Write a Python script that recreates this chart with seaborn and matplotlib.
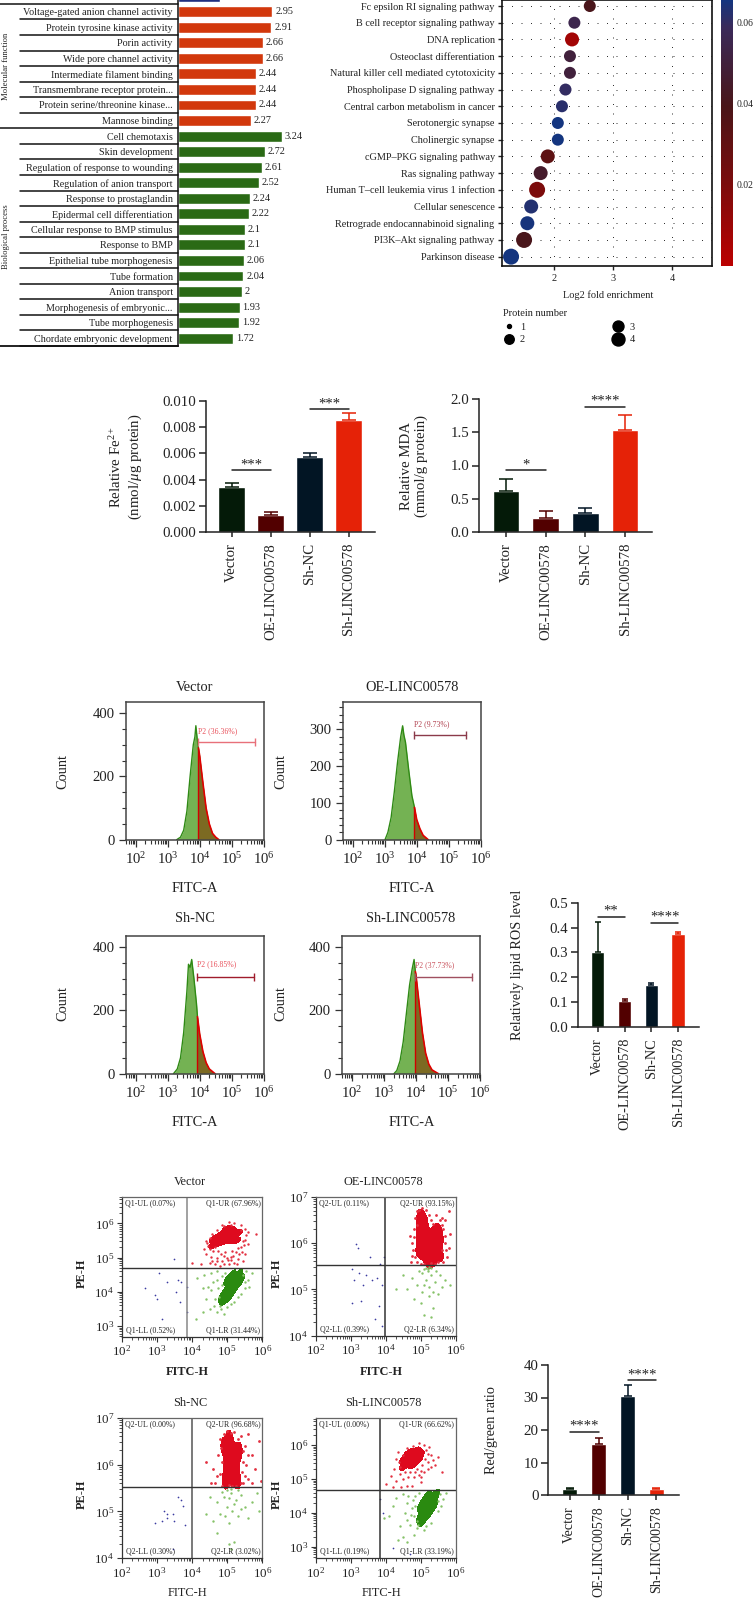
"""LINC00578 multi panel figure: enrichment, ferroptosis assays, flow cytometry"""
import numpy as np
import matplotlib
matplotlib.use('Agg')
import matplotlib.pyplot as plt
from matplotlib.cm import ScalarMappable
from matplotlib.colors import LinearSegmentedColormap, ListedColormap, Normalize
from matplotlib.lines import Line2D
import seaborn as sns

sns.set_theme(style='ticks')
plt.rcParams['font.family'] = ['Liberation Serif', 'DejaVu Serif']
plt.rcParams['mathtext.fontset'] = 'custom'
plt.rcParams['mathtext.rm'] = 'Liberation Serif'
plt.rcParams['mathtext.it'] = 'Liberation Serif:italic'
plt.rcParams['mathtext.bf'] = 'Liberation Serif:bold'
plt.rcParams['mathtext.fallback'] = 'stix'

W, H = 754, 1600
INK = '#222222'

# ---- enrichment bars ----
go_terms = ['', 'Voltage-gated anion channel activity', 'Protein tyrosine kinase activity', 'Porin activity',
            'Wide pore channel activity', 'Intermediate filament binding', 'Transmembrane receptor protein...',
            'Protein serine/threonine kinase...', 'Mannose binding', 'Cell chemotaxis', 'Skin development',
            'Regulation of response to wounding', 'Regulation of anion transport', 'Response to prostaglandin',
            'Epidermal cell differentiation', 'Cellular response to BMP stimulus', 'Response to BMP',
            'Epithelial tube morphogenesis', 'Tube formation', 'Anion transport', 'Morphogenesis of embryonic...',
            'Tube morphogenesis', 'Chordate embryonic development']
go_values = [1.32, 2.95, 2.91, 2.66, 2.66, 2.44, 2.44, 2.44, 2.27, 3.24, 2.72, 2.61, 2.52, 2.24, 2.22, 2.1, 2.1,
             2.06, 2.04, 2, 1.93, 1.92, 1.72]
go_groups = ['CC'] + ['MF'] * 8 + ['BP'] * 14
go_palette = {'CC': '#1f2f7f', 'MF': '#d2380c', 'BP': '#2a6a15'}

# ---- KEGG dot plot ----
pathways = ['Fc epsilon RI signaling pathway', 'B cell receptor signaling pathway', 'DNA replication',
            'Osteoclast differentiation', 'Natural killer cell mediated cytotoxicity',
            'Phospholipase D signaling pathway', 'Central carbon metabolism in cancer', 'Serotonergic synapse',
            'Cholinergic synapse', 'cGMP–PKG signaling pathway', 'Ras signaling pathway',
            'Human T–cell leukemia virus 1 infection', 'Cellular senescence',
            'Retrograde endocannabinoid signaling', 'PI3K–Akt signaling pathway', 'Parkinson disease']
fold_enrichment = [2.61, 2.35, 2.31, 2.275, 2.275, 2.20, 2.14, 2.07, 2.07, 1.90, 1.78, 1.72, 1.62, 1.555, 1.50, 1.28]
p_values = [0.040, 0.055, 0.008, 0.050, 0.050, 0.060, 0.062, 0.066, 0.066, 0.032, 0.045, 0.020, 0.063, 0.065,
            0.040, 0.066]
protein_number = [2, 2, 3, 2, 2, 2, 2, 2, 2, 3, 3, 4, 3, 3, 4, 4]

# ---- assay bars ----
groups = ['Vector', 'OE-LINC00578', 'Sh-NC', 'Sh-LINC00578']
bar_colors = ['#041a08', '#520000', '#021524', '#e52207']
fe_mean = [0.0034, 0.0013, 0.00575, 0.0086]
fe_top = [0.0037, 0.0015, 0.00605, 0.0091]
mda_mean = [0.62, 0.21, 0.285, 1.53]
mda_top = [0.79, 0.31, 0.355, 1.76]
ros_mean = [0.30, 0.103, 0.167, 0.373]
ros_top = [0.425, 0.11, 0.175, 0.383]
ratio_mean = [2.0, 15.7, 30.4, 1.8]
ratio_top = [2.2, 17.6, 34.0, 2.1]

# ---- flow histograms, x in log10 FITC-A ----
hist1_x = [3.28, 3.4, 3.5, 3.6, 3.7, 3.8, 3.85, 3.88, 3.92, 3.96, 4.0, 4.1, 4.2, 4.3, 4.4, 4.5, 4.6]
hist1_y = [0, 8, 30, 90, 200, 300, 325, 360, 320, 290, 265, 180, 100, 50, 20, 8, 0]
hist2_x = [3.01, 3.1, 3.2, 3.3, 3.4, 3.5, 3.53, 3.56, 3.6, 3.65, 3.75, 3.85, 3.93, 4.0, 4.1, 4.2, 4.36]
hist2_y = [0, 20, 60, 130, 210, 280, 295, 310, 285, 265, 190, 120, 88, 55, 30, 12, 0]
hist3_x = [3.18, 3.3, 3.4, 3.5, 3.6, 3.65, 3.7, 3.75, 3.82, 3.9, 3.93, 4.0, 4.1, 4.2, 4.3, 4.48]
hist3_y = [0, 15, 50, 130, 260, 345, 335, 360, 300, 220, 180, 125, 70, 35, 15, 0]
hist4_x = [3.31, 3.4, 3.5, 3.6, 3.7, 3.8, 3.88, 3.94, 3.98, 4.0, 4.1, 4.2, 4.3, 4.4, 4.5, 4.7]
hist4_y = [0, 10, 40, 100, 190, 280, 330, 360, 322, 310, 220, 130, 65, 30, 12, 0]

# ---- JC-1 clouds, (log10 FITC-H, log10 PE-H) ----
a_red_core = [(4.6, 5.35), (4.8, 5.45), (5.0, 5.55), (5.2, 5.7), (5.1, 5.8), (4.9, 5.7), (5.25, 5.5), (4.75, 5.62),
              (5.0, 5.85), (5.3, 5.72), (4.62, 5.52), (5.12, 5.5), (4.9, 5.5), (5.05, 5.68)]
a_red_fringe = [(4.4, 5.1), (4.5, 4.85), (4.6, 5.2), (4.7, 5.0), (4.85, 4.9), (4.95, 5.15), (5.05, 4.8), (5.15, 5.2),
                (5.3, 4.95), (5.4, 5.3), (5.5, 5.1), (4.45, 5.35), (4.55, 5.02), (4.75, 5.2), (4.9, 5.05), (5.1, 5.02),
                (5.25, 5.15), (5.45, 5.5), (5.55, 5.65), (5.6, 5.4), (4.35, 5.25), (4.65, 4.8), (4.8, 4.75), (5.2, 4.85),
                (4.4, 5.5), (5.5, 5.85), (5.4, 5.95), (5.81, 5.7), (4.25, 4.8), (4.0, 4.85), (5.0, 5.0), (5.35, 5.12),
                (4.58, 5.7), (5.2, 6.02), (5.05, 6.05), (4.85, 5.95), (4.5, 5.25), (4.42, 5.42), (4.65, 5.3), (4.72, 4.9),
                (4.82, 5.12), (5.02, 4.92), (5.18, 5.05), (5.32, 5.28), (5.42, 5.15), (5.48, 5.38), (5.52, 5.52),
                (5.12, 4.92), (4.92, 4.82), (5.38, 5.82), (4.52, 5.58), (4.7, 5.82), (4.92, 5.92), (5.12, 5.95),
                (5.28, 4.8), (4.58, 4.9), (5.6, 5.75), (5.45, 4.9)]
a_green_core = [(4.85, 3.85), (4.95, 4.0), (5.05, 4.15), (5.15, 4.3), (5.25, 4.4), (5.35, 4.52), (5.1, 3.95),
                (5.2, 4.1), (5.0, 4.35), (4.9, 3.75), (5.3, 4.25), (5.15, 4.5), (5.4, 4.35), (5.05, 3.85)]
a_green_fringe = [(4.15, 4.4), (4.3, 4.1), (4.4, 3.8), (4.5, 3.5), (4.6, 4.3), (4.7, 3.4), (4.75, 4.1), (4.8, 3.6),
                  (4.55, 4.55), (4.3, 3.4), (4.1, 3.2), (4.9, 3.35), (5.0, 3.55), (5.2, 3.7), (5.4, 3.95), (5.5, 4.1),
                  (5.6, 4.35), (5.7, 4.55), (4.7, 4.6), (4.85, 4.45), (5.55, 4.6), (4.45, 4.15), (4.65, 3.8), (4.95, 4.55),
                  (4.78, 3.85), (4.72, 4.35), (4.85, 4.2), (5.3, 3.85), (5.45, 4.5), (5.52, 4.3), (4.62, 3.6), (4.55, 4.05),
                  (4.82, 3.5), (5.1, 3.65), (5.62, 4.15), (4.35, 4.5)]
a_blue = [(2.65, 4.1), (3.0, 3.8), (3.05, 4.55), (3.3, 4.3), (3.6, 4.35), (3.7, 4.3), (3.5, 4.95), (3.65, 3.7),
          (3.85, 4.15), (2.95, 3.9), (3.15, 3.2), (3.85, 3.4), (3.55, 4.0)]

b_red_core = [(5.0, 6.6), (5.0, 6.4), (5.0, 6.2), (5.0, 6.0), (5.1, 5.8), (5.1, 6.5), (5.1, 6.3), (5.15, 6.1),
              (5.25, 5.9), (5.25, 5.7), (5.3, 6.1), (5.4, 6.0), (5.4, 6.2), (5.5, 5.9), (5.55, 6.1), (5.2, 5.6),
              (5.35, 5.65), (5.5, 6.3), (4.95, 5.8), (5.55, 5.72), (5.12, 5.95), (5.3, 5.85)]
b_red_fringe = [(4.72, 5.6), (4.75, 6.0), (4.8, 6.3), (4.85, 5.7), (4.85, 6.55), (4.9, 6.7), (5.15, 6.72), (5.3, 6.5),
                (5.45, 6.6), (5.65, 6.3), (5.7, 6.0), (5.75, 5.7), (5.7, 6.5), (5.8, 6.7), (5.6, 6.55), (4.78, 5.85),
                (5.8, 5.9), (5.85, 6.2), (5.65, 5.6), (4.7, 6.15), (5.0, 5.55), (5.4, 5.55), (4.82, 6.12), (4.88, 5.6),
                (4.9, 6.4), (4.95, 6.72), (5.05, 6.75), (5.25, 6.6), (5.35, 6.42), (5.55, 6.5), (5.62, 5.85),
                (5.68, 6.15), (5.72, 5.85), (5.6, 6.4), (4.76, 5.72), (5.1, 5.55), (5.3, 5.56), (5.5, 5.58)]
b_green = [(4.5, 5.3), (4.6, 5.0), (4.75, 5.25), (4.8, 4.8), (4.9, 5.1), (5.0, 4.7), (5.05, 5.35), (5.15, 5.2),
           (5.2, 5.4), (5.25, 5.05), (5.25, 4.85), (5.3, 5.3), (5.35, 4.6), (5.4, 5.15), (5.5, 4.9), (5.55, 5.3),
           (5.7, 5.2), (5.85, 5.1), (5.1, 4.45), (5.3, 4.4), (4.3, 5.0), (5.2, 5.45), (5.25, 5.48), (5.15, 5.47),
           (5.05, 4.95), (5.35, 4.95), (5.1, 5.1), (5.45, 5.4), (4.95, 5.4), (5.6, 5.05), (5.3, 5.46), (5.1, 5.44)]
b_blue = [(3.15, 5.98), (3.2, 5.9), (3.55, 5.7), (3.85, 5.55), (3.95, 5.7), (3.05, 5.45), (3.25, 5.35), (3.45, 5.3),
          (3.75, 5.25), (3.6, 5.2), (3.1, 5.2), (3.35, 5.1), (3.9, 5.1), (3.3, 4.75), (3.05, 4.7), (3.8, 4.65),
          (3.7, 4.35), (3.9, 4.2)]

c_red_core = [(4.9, 6.4), (5.0, 6.2), (5.0, 6.0), (5.0, 5.8), (5.1, 6.45), (5.1, 6.15), (5.1, 5.9), (5.15, 5.7),
              (5.25, 6.25), (5.25, 6.05), (5.25, 5.85), (5.3, 5.65), (4.95, 5.65), (5.35, 6.3), (5.05, 6.55)]
c_red_fringe = [(4.55, 5.6), (4.6, 5.9), (4.65, 5.6), (4.4, 6.05), (4.75, 6.2), (4.8, 6.55), (4.7, 5.75), (5.4, 6.6),
                (5.5, 6.4), (5.55, 6.0), (5.6, 5.7), (5.45, 5.6), (5.7, 6.2), (5.8, 5.9), (5.9, 6.5), (5.7, 5.6),
                (5.2, 6.7), (5.0, 6.72), (5.6, 6.65), (5.95, 5.65), (4.85, 5.55), (5.15, 5.55), (4.8, 5.8), (4.85, 6.05),
                (4.82, 6.35), (4.9, 6.65), (5.12, 6.68), (5.3, 6.55), (5.45, 6.3), (5.45, 6.05), (5.42, 5.85),
                (5.5, 5.75), (5.38, 5.6), (5.05, 5.56), (5.25, 5.55), (5.6, 6.2)]
c_green = [(4.5, 5.3), (4.4, 4.95), (4.6, 4.8), (4.7, 5.2), (4.8, 4.95), (4.9, 5.3), (5.0, 5.1), (5.05, 4.75),
           (5.1, 5.4), (5.15, 5.0), (5.25, 5.25), (5.3, 4.9), (5.4, 5.35), (5.5, 5.1), (5.6, 4.85), (5.7, 5.2),
           (5.05, 4.3), (5.1, 4.2), (4.7, 4.55), (5.0, 5.45), (5.2, 4.35), (5.85, 5.4), (5.9, 5.0), (5.1, 5.48),
           (4.95, 4.9), (5.2, 5.15), (5.4, 5.05), (5.05, 5.28), (5.3, 5.45), (4.85, 5.42)]
c_blue = [(3.6, 5.3), (3.7, 5.25), (3.45, 4.95), (3.2, 5.0), (3.3, 4.85), (3.15, 4.8), (3.5, 4.8), (2.95, 4.75),
          (3.3, 4.95), (3.45, 4.2), (3.8, 4.7), (3.75, 5.12)]

d_red_core = [(4.5, 5.35), (4.6, 5.5), (4.7, 5.6), (4.8, 5.7), (4.9, 5.85), (5.0, 5.75), (4.7, 5.8), (4.85, 5.5),
              (4.6, 5.7), (4.95, 5.6), (4.75, 5.4), (4.5, 5.55)]
d_red_fringe = [(4.0, 4.85), (4.15, 5.1), (4.25, 5.3), (4.3, 4.95), (4.4, 5.15), (4.5, 5.0), (4.6, 4.8), (4.7, 5.2),
                (4.8, 5.05), (4.9, 5.3), (5.0, 4.9), (5.1, 5.2), (5.2, 5.5), (5.3, 5.7), (5.4, 5.4), (5.5, 5.65),
                (5.6, 5.2), (4.3, 5.6), (4.35, 5.8), (4.4, 5.35), (5.15, 5.85), (5.35, 5.55), (5.0, 5.05), (4.75, 4.8),
                (5.1, 6.0), (4.95, 6.05), (5.25, 5.95), (4.2, 4.75), (4.45, 4.75), (5.05, 5.4), (4.55, 5.2), (4.65, 5.05),
                (4.85, 5.22), (4.95, 5.12), (5.12, 5.6), (5.2, 5.3), (4.38, 5.5), (4.48, 5.72), (4.62, 5.92), (4.78, 5.98),
                (5.02, 5.25), (5.22, 5.75), (5.3, 5.35)]
d_green_core = [(4.98, 3.85), (5.05, 4.0), (5.15, 4.15), (5.25, 4.3), (5.35, 4.45), (5.45, 4.55), (5.2, 3.95),
                (5.3, 4.1), (5.1, 4.35), (5.0, 4.2), (5.4, 4.25), (5.2, 4.52), (5.05, 3.75)]
d_green_fringe = [(4.1, 3.9), (4.2, 4.2), (4.3, 4.45), (4.4, 3.6), (4.5, 3.3), (4.55, 4.0), (4.6, 3.15), (4.65, 4.5),
                  (4.7, 3.65), (4.75, 4.15), (4.8, 3.35), (4.85, 4.5), (4.9, 3.55), (4.35, 3.2), (5.1, 3.5), (5.3, 3.7),
                  (5.5, 4.05), (5.65, 4.4), (5.72, 4.6), (3.95, 3.85), (4.5, 4.55), (4.8, 3.9), (5.55, 4.55), (4.95, 4.6),
                  (4.85, 4.2), (4.72, 3.95), (4.92, 3.65), (4.62, 4.3), (5.5, 4.35), (5.58, 4.2), (5.15, 3.62),
                  (4.88, 3.75), (4.78, 4.38), (4.6, 3.8)]
d_blue = [(3.85, 4.4), (3.92, 4.0), (4.2, 2.95), (4.7, 2.8)]

MAROON_RED = LinearSegmentedColormap.from_list(
    'pval', [(0, '#bb0000'), (0.3, '#7d0c0c'), (0.6, '#4a1518'), (0.9, '#3a2a5a'), (1, '#14357f')])


def px_axes(left, top, right, bottom):
    """Axes from a box in reference pixels"""
    return plt.gcf().add_axes([left / W, 1 - bottom / H, (right - left) / W, (bottom - top) / H])


def px_text(x, y, s, **kw):
    kw.setdefault('ha', 'center')
    kw.setdefault('va', 'center')
    plt.gcf().text(x / W, 1 - y / H, s, color=kw.pop('color', INK), **kw)


def px_hline(x0, x1, y, lw=1.1):
    plt.gcf().add_artist(Line2D([x0 / W, x1 / W], [1 - y / H, 1 - y / H], color='#111111', lw=lw))


def enrichment_panel():
    ax = px_axes(177.5, 0, 330, 346)
    sns.barplot(x=go_values, y=go_terms, hue=go_groups, palette=go_palette, dodge=False, legend=False,
                orient='h', width=0.7, saturation=1, ax=ax)
    ax.set_xlim(0, 152.5 / 32.2)
    ax.set_ylim(22.5, 0.2475)
    ax.set_xticks([])
    ax.set_xlabel('')
    ax.tick_params(axis='y', length=0, pad=3.5, labelsize=7.3, labelcolor=INK)
    sns.despine(ax=ax, bottom=True)
    ax.spines['left'].set_color('#111111')
    ax.spines['left'].set_linewidth(1.1)
    for i, v in enumerate(go_values):
        if i:
            ax.text(v + 0.09, i, f'{v:g}', va='center', ha='left', fontsize=7.4, color=INK)
    for k in range(len(go_terms)):
        y = -3.85 + 15.55 * (k + 0.5)
        px_hline(0 if k in (0, 8) else 20, 177.5, y)
    px_hline(0, 177.5, 345.7, lw=1.3)
    px_text(6.3, 66.7, 'Molecular function', rotation=90, fontsize=6.2)
    px_text(6.3, 237, 'Biological process', rotation=90, fontsize=6.2)


def dot_panel():
    ax = px_axes(502.3, 0, 712.3, 266)
    px = 0.72
    sizes = {2: (12 * px) ** 2, 3: (14 * px) ** 2, 4: (16 * px) ** 2}
    sns.scatterplot(x=fold_enrichment, y=pathways, hue=p_values, hue_norm=(0, 0.0656), palette=MAROON_RED,
                    size=protein_number, sizes=sizes, legend=False, linewidth=0, zorder=3, ax=ax)
    ax.set_xlim(1.132, 4.68)
    ax.set_ylim(15.56, -0.36)
    ax.set_xticks([2, 3, 4])
    ax.grid(True, color='#333333', lw=0.72, ls=(0, (1, 8.5)))
    ax.set_axisbelow(True)
    ax.tick_params(axis='y', length=3, width=1, pad=2.5, labelsize=7.4, labelcolor=INK, color=INK)
    ax.tick_params(axis='x', length=3, width=1, pad=2.5, labelsize=7.4, labelcolor=INK, color=INK)
    for side in ax.spines.values():
        side.set_color('#111111')
        side.set_linewidth(1.2)
    px_text(607.7, 295, 'Log2 fold enrichment', fontsize=7.5)

    cax = px_axes(721, 0, 733, 266)
    cbar = plt.gcf().colorbar(ScalarMappable(Normalize(0, 0.0656), MAROON_RED), cax=cax)
    cbar.outline.set_visible(False)
    cbar.set_ticks([0.02, 0.04, 0.06], labels=['0.02', '0.04', '0.06'])
    cbar.ax.tick_params(length=8.6, width=0.9, direction='in', color='white', labelsize=6.9, labelcolor=INK, pad=2.5)

    px_text(503.3, 313.7, 'Protein number', ha='left', fontsize=7.5)
    handles = [Line2D([], [], ls='', marker='o', color='black', ms=d * px) for d in (4, 9.5, 11, 13)]
    plt.gcf().legend(handles, ['1', '2', '3', '4'], ncol=2, frameon=False, fontsize=7.5, labelcolor=INK,
                     loc='upper left', bbox_to_anchor=(496 / W, 1 - 317.5 / H), handletextpad=0.4,
                     columnspacing=8.2, labelspacing=0.3, borderpad=0, handlelength=1.4)


def assay_panel(box, means, tops, yticks, yfmt, brackets, x0, step, width_px, xsize=10.7):
    """Bar with upper error cap and significance bracket"""
    ax = px_axes(*box)
    sns.barplot(x=groups, y=means, hue=groups, palette=bar_colors, legend=False, saturation=1,
                width=width_px / step, ax=ax)
    ax.set_ylim(0, yticks[-1])
    ax.set_xlim((box[0] - x0) / step, (box[2] - x0) / step)
    for i, (m, t) in enumerate(zip(means, tops)):
        ax.errorbar(i, m, yerr=[[0], [t - m]], color=bar_colors[i], capsize=width_px * 0.18, lw=1.1, capthick=1.1)
    ax.set_yticks(yticks, [yfmt % v for v in yticks])
    ax.tick_params(axis='x', rotation=90, length=3.6, width=1.1, pad=4.5, labelsize=xsize, labelcolor=INK, color=INK)
    ax.tick_params(axis='y', length=5, width=1.1, pad=2, labelsize=10.7, labelcolor=INK, color=INK)
    for t in ax.get_xticklabels():
        t.set_va('top')
    sns.despine(ax=ax)
    for name in ('left', 'bottom'):
        ax.spines[name].set_color(INK)
        ax.spines[name].set_linewidth(1.1)
    for a, b, y, stars in brackets:
        ax.plot([a, b], [y, y], color=INK, lw=1.1, clip_on=False)
        ax.annotate(stars, ((a + b) / 2, y), xytext=(0, -0.8), textcoords='offset points', ha='center',
                    va='bottom', fontsize=10.5, color=INK, annotation_clip=False)
    return ax


def hist_panel(box, hx, hy, gate, ylim, yticks, yminor, gate_y, gate_end, label, label_y, gate_color, label_color):
    ax = px_axes(*box)
    hx, hy = np.array(hx), np.array(hy)
    ax.fill_between(hx, hy, color='#74b253', lw=0)
    ax.fill_between(hx, hy, where=hx >= gate, color='#7c6a22', lw=0)
    sns.lineplot(x=hx[hx <= gate], y=hy[hx <= gate], color='#2f8a14', lw=1, ax=ax)
    sns.lineplot(x=hx[hx >= gate], y=hy[hx >= gate], color='#e00000', lw=1.2, ax=ax)
    ax.vlines(gate, 0, hy[hx == gate][0], color='#d00000', lw=1)
    ax.plot([gate, gate_end], [gate_y, gate_y], color=gate_color, lw=1, marker='|', ms=6, mew=1)
    ax.text(gate, label_y, label, color=label_color, fontsize=5.6, va='center', ha='left')
    left = 2 - (10 / 32)
    ax.set_xlim(left, 6)
    ax.set_ylim(0, ylim)
    ax.set_xticks([2, 3, 4, 5, 6], [f'$10^{{{d}}}$' for d in (2, 3, 4, 5, 6)])
    ax.set_xticks([d + np.log10(k) for d in (1, 2, 3, 4, 5) for k in range(2, 10) if d + np.log10(k) > left],
                  minor=True)
    ax.set_yticks(yticks, [str(v) for v in yticks])
    ax.set_yticks(yminor, minor=True)
    ax.tick_params(which='major', length=5, width=0.9, pad=3, labelsize=10.6, labelcolor=INK, color='#333333')
    ax.tick_params(which='minor', length=3, width=0.8, color='#333333')
    for side in ax.spines.values():
        side.set_color('#444444')
        side.set_linewidth(1.1)
    return ax


def cloud(ax, pts, color, size):
    x, y = np.array(pts).T
    sns.scatterplot(x=x, y=y, color=color, s=size, linewidth=0, legend=False, ax=ax)


def dense_cloud(ax, pts, color):
    x, y = np.array(pts).T
    sns.kdeplot(x=x, y=y, fill=True, cmap=ListedColormap([color]), levels=[0.1, 1], bw_adjust=0.7, ax=ax)


def dot_flow_panel(box, ylim, yticks, vline, hline, quad, dense, layers, line_color):
    ax = px_axes(*box)
    for pts, color in dense:
        dense_cloud(ax, pts, color)
    for pts, color, size in layers:
        cloud(ax, pts, color, size)
    ax.axvline(vline, color=line_color, lw=1.1)
    ax.axhline(hline, color='#333333', lw=1)
    ax.set_xlim(2, 6)
    ax.set_ylim(*ylim)
    ax.set_xticks([2, 3, 4, 5, 6], [f'$10^{{{d}}}$' for d in (2, 3, 4, 5, 6)])
    ax.set_xticks([d + np.log10(k) for d in (2, 3, 4, 5) for k in range(2, 10)], minor=True)
    ax.set_yticks(yticks, [f'$10^{{{d}}}$' for d in yticks])
    ax.set_yticks([d + np.log10(k) for d in range(2, 7) for k in range(2, 10) if ylim[0] < d + np.log10(k) < ylim[1]],
                  minor=True)
    ax.tick_params(which='major', length=3.5, width=0.8, pad=2, labelsize=9.4, labelcolor=INK, color='#333333')
    ax.tick_params(which='minor', length=2, width=0.6, color='#333333')
    for name, side in ax.spines.items():
        side.set_color('#333333' if name in ('left', 'bottom') else '#666666')
        side.set_linewidth(0.9)
    ax.set_xlabel('')
    ax.set_ylabel('')
    style = dict(transform=ax.transAxes, fontsize=5.7, color=INK, va='center')
    ax.text(0.025, 0.952, quad[0], ha='left', **style)
    ax.text(0.99, 0.952, quad[1], ha='right', **style)
    ax.text(0.03, 0.048, quad[2], ha='left', **style)
    ax.text(0.985, 0.048, quad[3], ha='right', **style)


fig = plt.figure(figsize=(W / 100, H / 100), dpi=100)
fig.patch.set_facecolor('white')

enrichment_panel()
dot_panel()

assay_panel((206, 401.3, 375, 531.7), fe_mean, fe_top, [0, 0.002, 0.004, 0.006, 0.008, 0.010], '%.3f',
            [(0, 1, 0.0047, '***'), (2, 3, 0.0094, '***')], 231.7, 39, 26.7)
px_text(126, 467, 'Relative Fe$^{2+}$\n(nmol/$\\mu$g protein)', rotation=90, fontsize=10.7, linespacing=1.15)
assay_panel((479.3, 399.3, 652, 531.7), mda_mean, mda_top, [0, 0.5, 1.0, 1.5, 2.0], '%.1f',
            [(0, 1, 0.93, '*'), (2, 3, 1.89, '****')], 506, 39.7, 26.7)
px_text(414, 466, 'Relative MDA\n(mmol/g protein)', rotation=90, fontsize=10.7, linespacing=1.15)
assay_panel((577.7, 903, 699, 1026.7), ros_mean, ros_top, [0, 0.1, 0.2, 0.3, 0.4, 0.5], '%.1f',
            [(0, 1, 0.445, '**'), (2, 3, 0.42, '****')], 597.7, 26.8, 13.5, xsize=10.3)
px_text(517.7, 965, 'Relatively lipid ROS level', rotation=90, fontsize=10.3)
assay_panel((548.3, 1365, 679, 1495), ratio_mean, ratio_top, [0, 10, 20, 30, 40], '%d',
            [(0, 1, 19.5, '****'), (2, 3, 35.3, '****')], 569.7, 28.9, 14.7, xsize=10.1)
px_text(491.7, 1430, 'Red/green ratio', rotation=90, fontsize=10.3)

minor_400 = [50, 100, 150, 250, 300, 350]
hist_panel((125.7, 702.3, 263.7, 839.7), hist1_x, hist1_y, 3.96, 434, [0, 200, 400], minor_400, 309, 5.73,
           'P2 (36.36%)', 342, '#e8707a', '#e8505a')
hist_panel((342.7, 702.3, 480.7, 839.7), hist2_x, hist2_y, 3.93, 374, [0, 100, 200, 300],
           [20, 40, 60, 80, 120, 140, 160, 180, 220, 240, 260, 280, 320, 340, 360], 284, 5.53,
           'P2 (9.73%)', 315, '#8b3a4a', '#b0404e')
hist_panel((125.7, 936, 263.7, 1073.7), hist3_x, hist3_y, 3.93, 434, [0, 200, 400], minor_400, 306, 5.7,
           'P2 (16.85%)', 344, '#a01c2c', '#e8505a')
hist_panel((342, 936, 480, 1073.7), hist4_x, hist4_y, 3.98, 434, [0, 200, 400], minor_400, 305, 5.76,
           'P2 (37.73%)', 342, '#a05060', '#c8505a')
for x, y, title in [(194.7, 687, 'Vector'), (411.7, 687, 'OE-LINC00578'), (194.7, 919, 'Sh-NC'),
                    (411, 919, 'Sh-LINC00578')]:
    px_text(x, y, title, fontsize=10.4)
for y in (889, 1123):
    px_text(194.7, y, 'FITC-A', fontsize=10.4)
    px_text(411.7, y, 'FITC-A', fontsize=10.4)
for y in (771, 1004):
    px_text(63.3, y, 'Count', rotation=90, fontsize=10.4)
    px_text(280.7, y, 'Count', rotation=90, fontsize=10.4)

RED, PALE_RED = '#de0a1e', '#e23040'
GREEN, PALE_GREEN = '#2a8a10', '#86c268'
BLUE = '#3a3aa0'
dot_flow_panel((121.7, 1196.7, 262.3, 1336.7), (2.69, 6.78), [3, 4, 5, 6], 3.87, 4.69,
               ['Q1-UL (0.07%)', 'Q1-UR (67.96%)', 'Q1-LL (0.52%)', 'Q1-LR (31.44%)'],
               [(a_red_core, RED), (a_green_core, GREEN)],
               [(a_red_fringe, PALE_RED, 3), (a_green_fringe, PALE_GREEN, 3), (a_blue, BLUE, 1.5)], '#888888')
dot_flow_panel((315.7, 1196.7, 455.7, 1335.7), (4, 7), [4, 5, 6, 7], 3.99, 5.52,
               ['Q2-UL (0.11%)', 'Q2-UR (93.15%)', 'Q2-LL (0.39%)', 'Q2-LR (6.34%)'],
               [(b_red_core, RED)],
               [(b_red_fringe, PALE_RED, 4), (b_green, PALE_GREEN, 3), (b_blue, BLUE, 1.5)], '#333333')
dot_flow_panel((121.7, 1417.7, 262.3, 1558.3), (4, 7), [4, 5, 6, 7], 3.99, 5.52,
               ['Q2-UL (0.00%)', 'Q2-UR (96.68%)', 'Q2-LL (0.30%)', 'Q2-LR (3.02%)'],
               [(c_red_core, RED)],
               [(c_red_fringe, PALE_RED, 4), (c_green, PALE_GREEN, 3), (c_blue, BLUE, 1.5)], '#555555')
dot_flow_panel((315.7, 1417.7, 455.7, 1558.3), (2.66, 6.81), [3, 4, 5, 6], 3.85, 4.67,
               ['Q1-UL (0.00%)', 'Q1-UR (66.62%)', 'Q1-LL (0.19%)', 'Q1-LR (33.19%)'],
               [(d_red_core, RED), (d_green_core, GREEN)],
               [(d_red_fringe, PALE_RED, 3), (d_green_fringe, PALE_GREEN, 3), (d_blue, BLUE, 1.5)], '#333333')
px_text(190, 1182, 'Vector', fontsize=8.8)
px_text(383, 1182, 'OE-LINC00578', fontsize=8.8)
px_text(190, 1403, 'Sh-NC', fontsize=8.8)
px_text(383, 1403, 'Sh-LINC00578', fontsize=8.8)
px_text(187, 1372, 'FITC-H', fontsize=8.8, fontweight='bold')
px_text(381, 1372, 'FITC-H', fontsize=8.8, fontweight='bold')
px_text(187, 1593, 'FITC-H', fontsize=8.8)
px_text(381, 1593, 'FITC-H', fontsize=8.8)
for x in (82, 277):
    px_text(x, 1273, 'PE-H', rotation=90, fontsize=8.8, fontweight='bold')
    px_text(x, 1494, 'PE-H', rotation=90, fontsize=8.8, fontweight='bold')

fig.savefig('out.png', dpi=100, facecolor='white')
